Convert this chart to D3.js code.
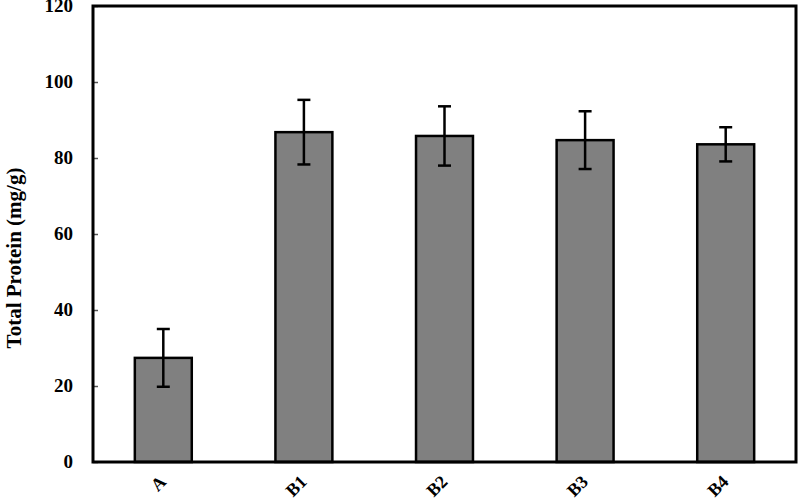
<!DOCTYPE html>
<html lang="en">
<head>
  <meta charset="utf-8">
  <title>Total Protein</title>
  <script type="text/javascript" src="https://cdn.jsdelivr.net/npm/d3@7"></script>
  <style>
    body { margin: 0; background: #fff; }
    text { font-family: "Liberation Serif", "DejaVu Serif", serif; font-weight: bold; fill: #000; }
  </style>
</head>
<body>
  <script type="text/javascript">

    // Data
    var categories = ["A", "B1", "B2", "B3", "B4"];
    var values = [27.4, 86.8, 85.8, 84.7, 83.6];
    var errors = [7.6, 8.5, 7.8, 7.6, 4.5];
    var yTicks = [0, 20, 40, 60, 80, 100, 120];

    var w = 800;
    var h = 501;
    var plotLeft = 93, plotRight = 796, plotTop = 6, plotBottom = 462;

    var dataset = categories.map(function (c, i) {
      return { name: c, value: values[i], err: errors[i] };
    });

    // x scale
    var xScale = d3.scaleBand()
      .domain(categories)
      .range([plotLeft, plotRight])
      .paddingInner(0.595)
      .paddingOuter(0.2975);

    // y scale
    var yScale = d3.scaleLinear()
      .domain([0, 120])
      .range([plotBottom, plotTop]);

    var svg = d3.select("body")
      .append("svg")
      .attr("width", w)
      .attr("height", h);

    // bars
    svg.append("g")
      .selectAll("rect")
      .data(dataset)
      .enter()
      .append("rect")
      .attr("x", function (d) { return xScale(d.name); })
      .attr("y", function (d) { return yScale(d.value); })
      .attr("width", xScale.bandwidth())
      .attr("height", function (d) { return yScale(0) - yScale(d.value); })
      .attr("fill", "#808080")
      .attr("stroke", "#000")
      .attr("stroke-width", 2.5);

    // error bars
    var eb = svg.append("g")
      .selectAll("g")
      .data(dataset)
      .enter()
      .append("g")
      .attr("stroke", "#000")
      .attr("stroke-width", 2.5);

    eb.append("line")
      .attr("x1", function (d) { return xScale(d.name) + xScale.bandwidth() / 2; })
      .attr("x2", function (d) { return xScale(d.name) + xScale.bandwidth() / 2; })
      .attr("y1", function (d) { return yScale(d.value + d.err); })
      .attr("y2", function (d) { return yScale(d.value - d.err); });

    eb.selectAll(".cap")
      .data(function (d) { return [d.value + d.err, d.value - d.err].map(function (v) { return { name: d.name, v: v }; }); })
      .enter()
      .append("line")
      .attr("class", "cap")
      .attr("x1", function (d) { return xScale(d.name) + xScale.bandwidth() / 2 - 6.5; })
      .attr("x2", function (d) { return xScale(d.name) + xScale.bandwidth() / 2 + 6.5; })
      .attr("y1", function (d) { return yScale(d.v); })
      .attr("y2", function (d) { return yScale(d.v); });

    // y axis
    var yAxis = d3.axisLeft(yScale)
      .tickValues(yTicks)
      .tickSize(-5)
      .tickPadding(20);

    var gy = svg.append("g")
      .attr("transform", "translate(" + plotLeft + ",0)")
      .call(yAxis);
    gy.select(".domain").remove();
    gy.selectAll(".tick line").attr("stroke", "#555").attr("stroke-width", 1.5);
    gy.selectAll(".tick text")
      .attr("font-size", "19px")
      .attr("font-family", "Liberation Serif, serif")
      .attr("font-weight", "bold")
      .attr("fill", "#000")
      .attr("dy", "0.3em");

    // x axis labels
    var xAxis = d3.axisBottom(xScale).tickSize(0).tickPadding(0);
    var gx = svg.append("g")
      .attr("transform", "translate(0," + plotBottom + ")")
      .call(xAxis);
    gx.select(".domain").remove();
    gx.selectAll(".tick text")
      .attr("font-size", "18px")
      .attr("font-family", "Liberation Serif, serif")
      .attr("font-weight", "bold")
      .attr("fill", "#000")
      .attr("text-anchor", "end")
      .attr("dy", null)
      .attr("y", null)
      .attr("transform", "translate(4,21) rotate(-45)");

    // frame
    svg.append("rect")
      .attr("x", plotLeft)
      .attr("y", plotTop)
      .attr("width", plotRight - plotLeft)
      .attr("height", plotBottom - plotTop)
      .attr("fill", "none")
      .attr("stroke", "#000")
      .attr("stroke-width", 3);

    // y axis title
    svg.append("text")
      .attr("transform", "translate(21,258) rotate(-90)")
      .attr("text-anchor", "middle")
      .attr("font-size", "21px")
      .text("Total Protein (mg/g)");

  </script>
</body>
</html>
